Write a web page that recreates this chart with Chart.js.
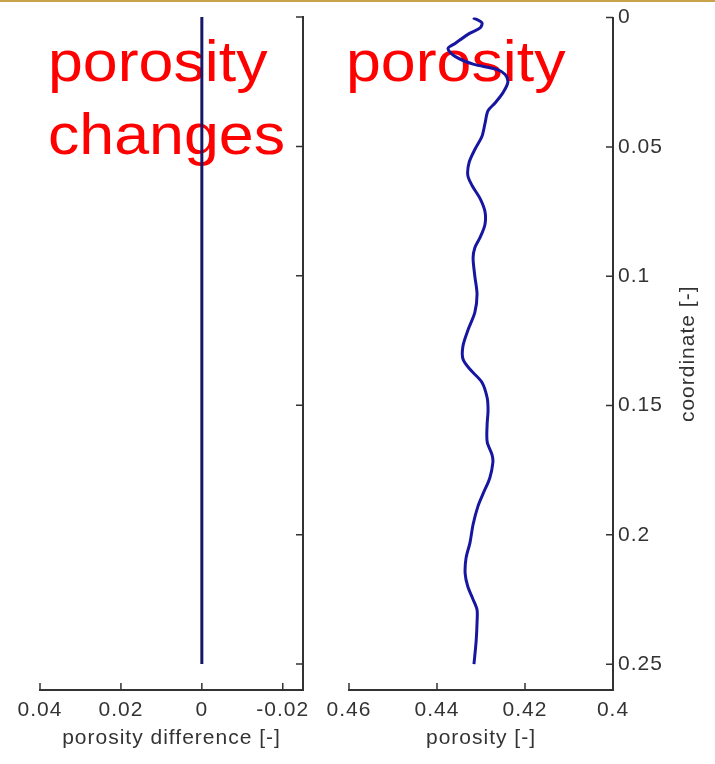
<!DOCTYPE html>
<html>
<head>
<meta charset="utf-8">
<title>porosity</title>
<script src="https://cdn.jsdelivr.net/npm/chart.js@4/dist/chart.umd.min.js"></script>
<style>
  html, body { margin: 0; padding: 0; background: #fff; }
  #page { position: relative; width: 715px; height: 764px; overflow: hidden; }
  #topline { position: absolute; left: 0; top: 0; width: 715px; height: 2px; background: #c9a24c; }
  .label {
    position: absolute; color: #ff0000; font-family: "Liberation Sans", Arial, sans-serif;
    font-size: 57px; line-height: 73px; white-space: nowrap;
    transform: scaleX(1.1); transform-origin: 0 0;
  }
  canvas { position: absolute; left: 0; top: 0; }
</style>
</head>
<body>
<div id="page">
  <div id="topline"></div>
  <div class="label" style="left:48px; top:25px;">porosity<br>changes</div>
  <div class="label" style="left:346px; top:25px;">porosity</div>
  <canvas id="chartDiff" width="715" height="764"></canvas>
  <canvas id="chartPorosity" width="715" height="764"></canvas>
</div>
<script>
// depth along the sample, shared by both panels
const coordTicks = [0, 0.05, 0.1, 0.15, 0.2, 0.25];

// left panel: porosity change
const diffCoordinate = [0, 0.05, 0.1, 0.15, 0.2, 0.25];
const porosityDiff = [0, 0, 0, 0, 0, 0];
const diffTicks = [0.04, 0.02, 0, -0.02];

// right panel: porosity profile
const coordinate = [0, 0.002, 0.004, 0.006, 0.010, 0.012, 0.015, 0.018, 0.020, 0.022,
    0.025, 0.029, 0.033, 0.036, 0.041, 0.046, 0.051, 0.056, 0.061, 0.065,
    0.070, 0.075, 0.080, 0.085, 0.089, 0.093, 0.100, 0.107, 0.114, 0.121,
    0.127, 0.132, 0.136, 0.141, 0.147, 0.152, 0.157, 0.164, 0.169, 0.172,
    0.178, 0.184, 0.189, 0.196, 0.203, 0.209, 0.215, 0.220, 0.225, 0.229,
    0.234, 0.241, 0.250];
const porosity = [0.4318, 0.4298, 0.4302, 0.4325, 0.4359, 0.4375, 0.4359, 0.4318, 0.4264, 0.4245,
    0.4239, 0.4250, 0.4268, 0.4284, 0.4291, 0.4298, 0.4314, 0.4327, 0.4330, 0.4320,
    0.4302, 0.4291, 0.4291, 0.4302, 0.4314, 0.4318, 0.4314, 0.4309, 0.4314, 0.4330,
    0.4341, 0.4341, 0.4325, 0.4298, 0.4286, 0.4284, 0.4286, 0.4286, 0.4275, 0.4273,
    0.4280, 0.4295, 0.4307, 0.4318, 0.4325, 0.4334, 0.4336, 0.4330, 0.4318, 0.4309,
    0.4309, 0.4311, 0.4316];
const porosityTicks = [0.46, 0.44, 0.42, 0.4];

Chart.defaults.font.family = '"Liberation Sans", Arial, sans-serif';
Chart.defaults.font.size = 21;
Chart.defaults.color = '#333';

const AXIS = '#333';
const fmt = v => String(+v.toFixed(4));
const fixTicks = list => scale => { scale.ticks = list.map(v => ({ value: v })); };

// matlab style: ticks point into the plot
const inwardTicks = {
    id: 'inwardTicks',
    beforeDraw(chart) {
        chart.ctx.letterSpacing = '1px';
    },
    afterDraw(chart) {
        const ctx = chart.ctx;
        const x = chart.scales.x, y = chart.scales.y;
        ctx.save();
        ctx.strokeStyle = AXIS;
        ctx.lineWidth = 1.5;
        ctx.beginPath();
        x.ticks.forEach(t => {
            const px = x.getPixelForValue(t.value);
            ctx.moveTo(px, x.top);
            ctx.lineTo(px, x.top - 7);
        });
        y.ticks.forEach(t => {
            const py = y.getPixelForValue(t.value);
            ctx.moveTo(y.left, py);
            ctx.lineTo(y.left - 7, py);
        });
        ctx.stroke();
        ctx.restore();
    }
};

// y title on the right, reading bottom to top
const sideTitle = {
    id: 'sideTitle',
    afterDraw(chart, args, opts) {
        const ctx = chart.ctx;
        const y = chart.scales.y;
        ctx.save();
        ctx.font = '21px "Liberation Sans", Arial, sans-serif';
        ctx.fillStyle = '#333';
        ctx.textAlign = 'center';
        ctx.textBaseline = 'middle';
        ctx.translate(y.left + opts.offset, (y.top + y.bottom) / 2);
        ctx.rotate(-Math.PI / 2);
        ctx.fillText(opts.text, 0, 0);
        ctx.restore();
    }
};

function yScale(width, showLabels) {
    return {
        type: 'linear',
        position: 'right',
        reverse: true,
        min: 0,
        max: 0.26,
        afterBuildTicks: fixTicks(coordTicks),
        afterFit: s => { s.width = width; },
        grid: { display: false, drawTicks: false },
        border: { display: true, color: AXIS, width: 2 },
        ticks: { display: showLabels, padding: 5, callback: fmt }
    };
}

function xScale(min, max, list, title) {
    return {
        type: 'linear',
        position: 'bottom',
        reverse: true,
        min: min,
        max: max,
        afterBuildTicks: fixTicks(list),
        afterFit: s => { s.height = 74; },
        grid: { display: false, drawTicks: false },
        border: { display: true, color: AXIS, width: 2 },
        ticks: { padding: 8, maxRotation: 0, autoSkip: false, callback: fmt },
        title: { display: true, text: title, color: '#333', font: { size: 21 }, padding: { top: 0, bottom: 13 } }
    };
}

const common = {
    responsive: false,
    animation: false,
    events: [],
    plugins: { legend: { display: false }, tooltip: { enabled: false } }
};

new Chart(document.getElementById('chartDiff'), {
    type: 'scatter',
    data: {
        datasets: [{
            data: diffCoordinate.map((c, i) => ({ x: porosityDiff[i], y: c })),
            showLine: true,
            borderColor: '#16166a',
            borderWidth: 3,
            pointRadius: 0
        }]
    },
    options: {
        ...common,
        layout: { padding: { left: 40, right: 412, top: 17, bottom: 0 } },
        scales: {
            x: xScale(-0.025, 0.04, diffTicks, 'porosity difference [-]'),
            y: yScale(0, false)
        }
    },
    plugins: [inwardTicks]
});

new Chart(document.getElementById('chartPorosity'), {
    type: 'scatter',
    data: {
        datasets: [{
            data: coordinate.map((c, i) => ({ x: porosity[i], y: c })),
            showLine: true,
            borderColor: '#1616a0',
            borderWidth: 3,
            pointRadius: 0,
            tension: 0.3
        }]
    },
    options: {
        ...common,
        layout: { padding: { left: 349, right: 0, top: 17, bottom: 0 } },
        scales: {
            x: xScale(0.4, 0.46, porosityTicks, 'porosity [-]'),
            y: yScale(102, true)
        },
        plugins: {
            ...common.plugins,
            sideTitle: { text: 'coordinate [-]', offset: 75 }
        }
    },
    plugins: [inwardTicks, sideTitle]
});
</script>
</body>
</html>
